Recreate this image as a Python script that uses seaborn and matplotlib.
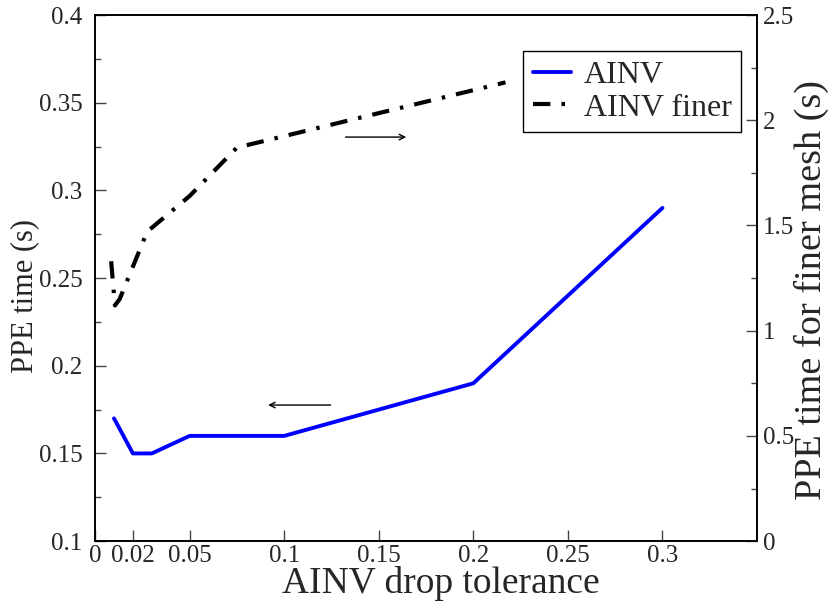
import matplotlib
matplotlib.use("Agg")
import matplotlib.pyplot as plt
import seaborn as sns
from matplotlib.ticker import MultipleLocator, FormatStrFormatter

sns.set_style("ticks")
plt.rcParams['font.family'] = ['Liberation Serif', 'DejaVu Serif']
plt.rcParams['lines.scale_dashes'] = False

# AINV (left axis)
tol = [0.01, 0.02, 0.03, 0.05, 0.1, 0.2, 0.3]
ppe_time = [0.17, 0.15, 0.15, 0.16, 0.16, 0.19, 0.29]

# AINV finer (right axis)
tol_fine = [0.0085, 0.0105, 0.013, 0.0275, 0.05, 0.075, 0.217]
ppe_time_fine = [1.33, 1.12, 1.15, 1.47, 1.64, 1.87, 2.18]

xticks = [0, 0.02, 0.05, 0.1, 0.15, 0.2, 0.25, 0.3]
xticklabels = ["0", "0.02", "0.05", "0.1", "0.15", "0.2", "0.25", "0.3"]

fig, ax = plt.subplots(figsize=(8.34, 6.08), dpi=100)
ax2 = ax.twinx()

sns.lineplot(x=tol, y=ppe_time, ax=ax, color="#0000ff", linewidth=2.8,
             label="AINV", legend=False)
sns.lineplot(x=tol_fine, y=ppe_time_fine, ax=ax2, color="black", linewidth=3.0,
             label="AINV finer", legend=False)
ax2.lines[0].set_dashes((12.5, 8, 2.5, 8))

ax.set_xlim(0, 0.35)
ax.set_xticks(xticks)
ax.set_xticklabels(xticklabels)
ax.yaxis.set_major_locator(MultipleLocator(0.05))
ax.yaxis.set_minor_locator(MultipleLocator(0.025))
ax2.yaxis.set_major_locator(MultipleLocator(0.5))
ax2.yaxis.set_minor_locator(MultipleLocator(0.25))
ax.yaxis.set_major_formatter(FormatStrFormatter("%g"))
ax2.yaxis.set_major_formatter(FormatStrFormatter("%g"))
ax.set_ylim(0.1, 0.4)
ax2.set_ylim(0, 2.5)

for a in (ax, ax2):
    a.tick_params(which="major", direction="in", length=8, width=1, labelsize=18,
                  color="#444444")
    a.tick_params(which="minor", direction="in", length=4, width=1, color="#444444")
    for s in a.spines.values():
        s.set_linewidth(1.2)
        s.set_color("black")
ax.tick_params(axis="x", pad=3)
ax.tick_params(axis="y", pad=9)
ax2.tick_params(axis="y", pad=4)

ax.set_xlabel("AINV drop tolerance", fontsize=27)
ax.set_ylabel("PPE time (s)", fontsize=22)
ax2.set_ylabel("PPE time for finer mesh (s)", fontsize=27.5)
ax.xaxis.set_label_coords(0.523, -0.048)
ax.yaxis.set_label_coords(-0.085, 0.466)
ax2.yaxis.set_label_coords(1.056, 0.477)

ax.annotate("", xy=(0.09, 0.1776), xytext=(0.126, 0.1776),
            arrowprops=dict(arrowstyle="->", color="black", lw=1))
ax2.annotate("", xy=(0.166, 1.92), xytext=(0.131, 1.92),
             arrowprops=dict(arrowstyle="->", color="black", lw=1))

handles = ax.lines[:1] + ax2.lines[:1]
leg = ax2.legend(handles, ["AINV", "AINV finer"], loc="upper right",
                 bbox_to_anchor=(0.976, 0.9316), borderaxespad=0, fontsize=23,
                 frameon=True, fancybox=False, edgecolor="black", framealpha=1,
                 handlelength=1.2, borderpad=0.3, labelspacing=0.1,
                 handletextpad=0.4)
leg.get_frame().set_linewidth(1.0)

fig.subplots_adjust(left=0.114, right=0.9077, top=0.9753, bottom=0.110)
fig.savefig("out.png", dpi=100)
